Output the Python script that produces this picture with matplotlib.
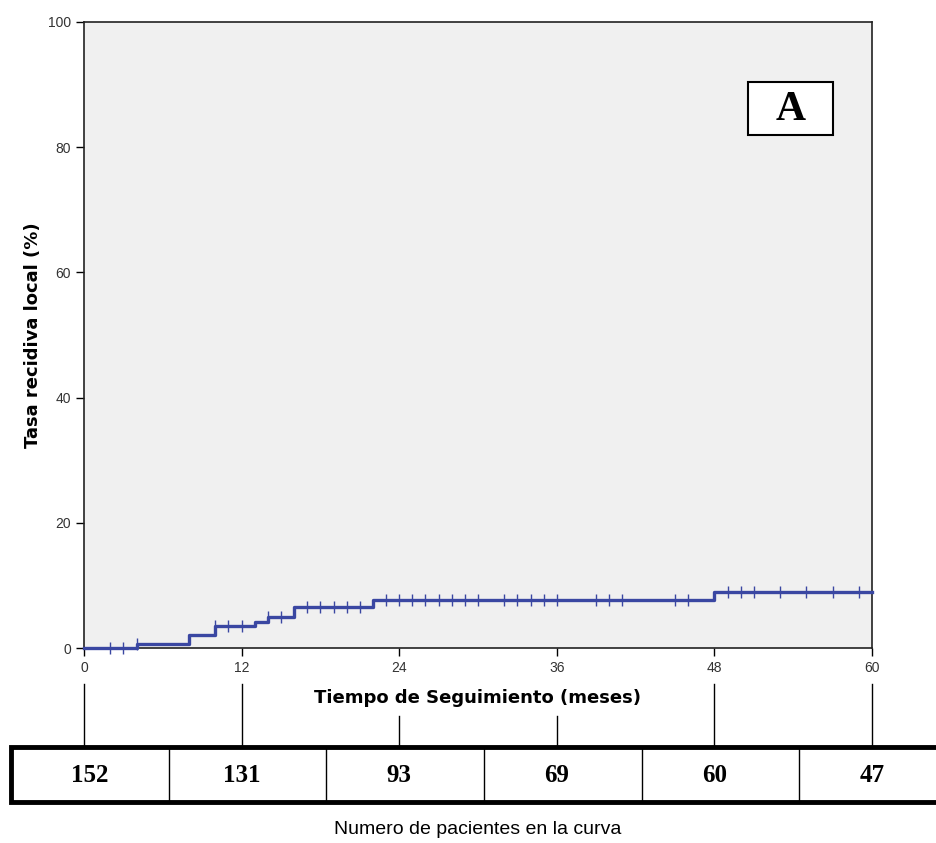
import matplotlib
matplotlib.use("Agg")
import matplotlib.pyplot as plt
from matplotlib.patches import Rectangle
import numpy as np

# Kaplan-Meier style cumulative recurrence (%)
event_times = [0, 4, 8, 10, 13, 14, 16, 22, 48, 60]
event_levels = [0, 0.7, 2.0, 3.5, 4.2, 4.9, 6.6, 7.6, 9.0, 9.0]
censor_times = [2, 3, 4, 10, 11, 12, 14, 15, 17, 18, 19, 20, 21, 23, 24, 25, 26,
                27, 28, 29, 30, 32, 33, 34, 35, 36, 39, 40, 41, 45, 46, 49, 50,
                51, 53, 55, 57, 59]

# patients at risk table
risk_times = [0, 12, 24, 36, 48, 60]
risk_counts = [152, 131, 93, 69, 60, 47]

plt.rcParams['font.family'] = ['Liberation Sans', 'DejaVu Sans']

W, H = 937, 843
fig = plt.figure(figsize=(W / 100, H / 100), dpi=100)

x0px, x1px, ytop, ybot = 84, 872, 22, 648
ax = fig.add_axes([x0px / W, 1 - ybot / H, (x1px - x0px) / W, (ybot - ytop) / H])
ax.set_facecolor('#f0f0f0')

blue = '#3a47a2'
ax.step(event_times, event_levels, where='post', color=blue, lw=2.4, zorder=3,
        clip_on=False)
# censor marks on the curve
cens_y = [event_levels[np.searchsorted(event_times, t, side='right') - 1] for t in censor_times]
ax.plot(censor_times, cens_y, ls='none', marker='|', ms=9, mew=1.0, color=blue,
        zorder=4, clip_on=False)

ax.set_xlim(0, 60)
ax.set_ylim(0, 100)
ax.set_xticks(risk_times)
ax.set_yticks(range(0, 101, 20))
ax.tick_params(direction='out', length=6, width=1, labelsize=10, labelcolor='#333333')
for s in ax.spines.values():
    s.set_color('#222222')
    s.set_linewidth(1.2)
ax.set_ylabel('Tasa recidiva local (%)', fontsize=13, fontweight='bold',
              family='DejaVu Sans', labelpad=4)
ax.set_xlabel('Tiempo de Seguimiento (meses)', fontsize=13, fontweight='bold',
              family='DejaVu Sans', labelpad=10)

# panel letter
ax.add_patch(Rectangle((0.8426, 0.8195), 0.1079, 0.0847, transform=ax.transAxes,
                       facecolor='white', edgecolor='black', lw=1.5, zorder=5))
ax.text(0.8965, 0.860, 'A', transform=ax.transAxes, ha='center', va='center',
        fontsize=30, fontweight='bold', family='Liberation Serif', zorder=6)

# overlay for the risk table: x in months, y in pixels
k = (x1px - x0px) / 60.0
tab = fig.add_axes([0, 0, 1, 1], facecolor='none')
tab.set_xlim(-x0px / k, (W - x0px) / k)
tab.set_ylim(H, 0)
tab.axis('off')

box_l = (11 - x0px) / k
box_r = (W + 5 - x0px) / k
box_top, box_bot = 747, 802
tab.add_patch(Rectangle((box_l, box_top), box_r - box_l, box_bot - box_top,
                        facecolor='white', edgecolor='black', lw=3.5, zorder=2,
                        clip_on=False))
for t in risk_times[:-1]:
    tab.plot([t + 6.45, t + 6.45], [box_top, box_bot], color='black', lw=1, zorder=3)
for t, n in zip(risk_times, risk_counts):
    y_start = 716 if t in (24, 36) else 684
    tab.plot([t, t], [y_start, box_top], color='black', lw=1, zorder=3)
    tab.text(t + (0.4 if t == 0 else 0), (box_top + box_bot) / 2 + 1, str(n),
             ha='center', va='center', fontsize=18, fontweight='bold',
             family='Liberation Serif', zorder=4)

tab.text(30, 830, 'Numero de pacientes en la curva', ha='center', va='center',
         fontsize=14)

fig.savefig('out.png', dpi=100)
